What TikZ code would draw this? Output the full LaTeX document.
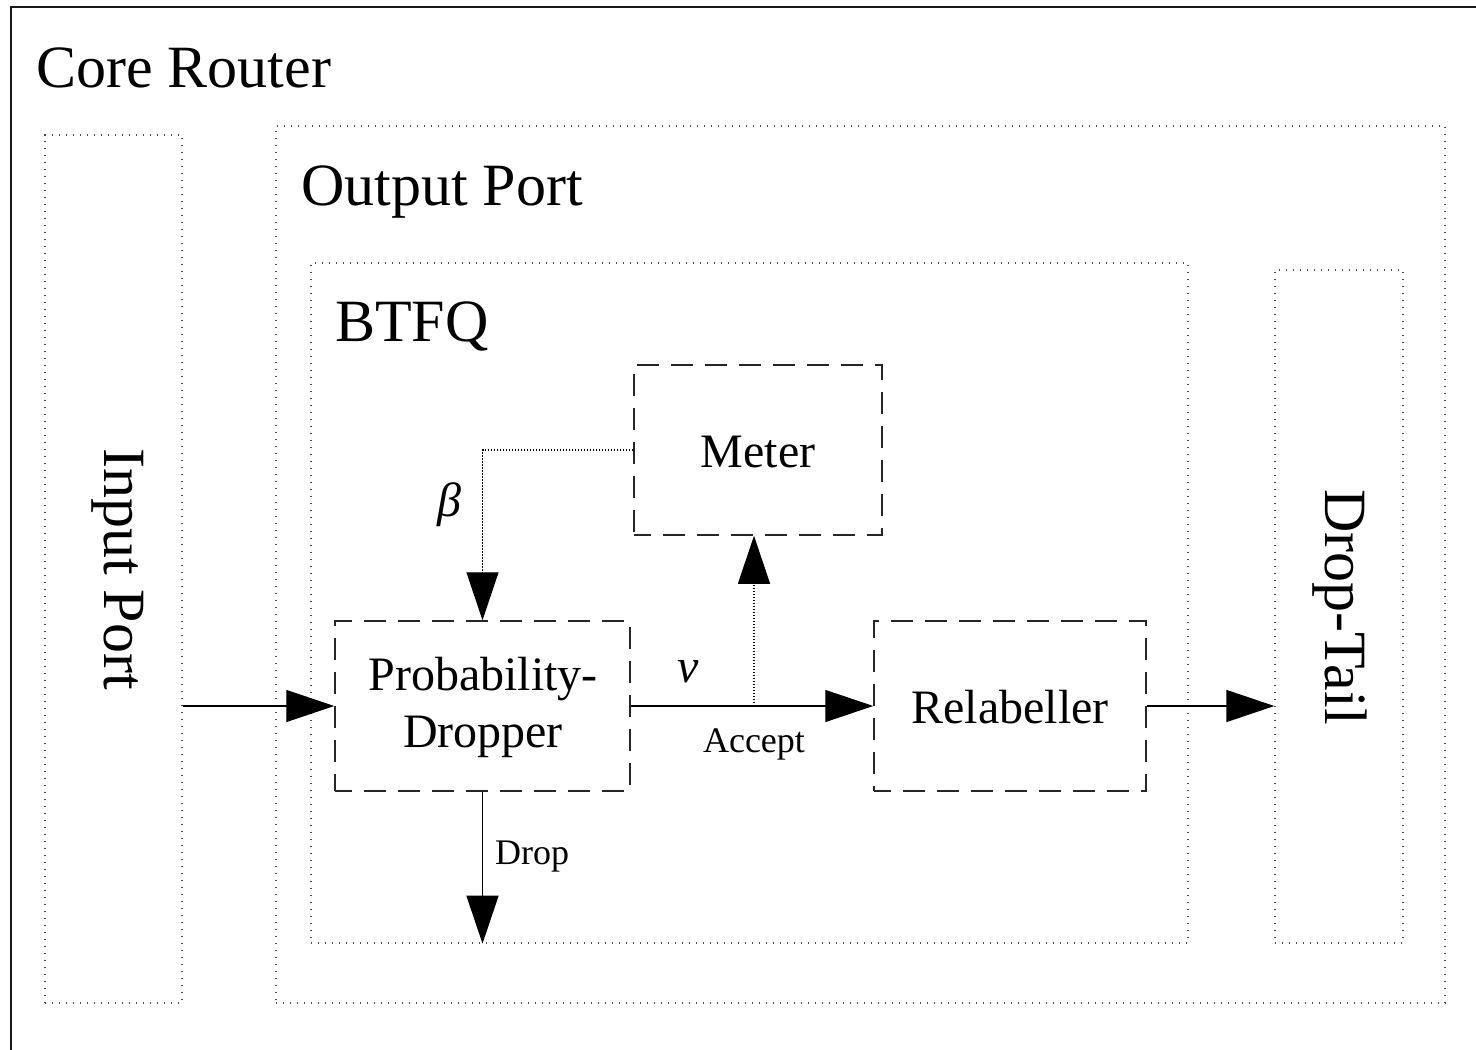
\documentclass[tikz,border=0pt]{standalone}
\usepackage{fontspec}
\setmainfont{Liberation Serif}
\usetikzlibrary{arrows.meta}
\begin{document}
\begin{tikzpicture}[x=1pt,y=-1pt,
  dotbox/.style={draw=black!70, line width=1.3pt, dash pattern=on 1.4pt off 5.6pt, inner sep=0pt},
  dashbox/.style={draw=black!85, line width=1.5pt, dash pattern=on 22pt off 12pt, dash phase=5pt, inner sep=0pt, align=center},
  bigtxt/.style={font=\fontsize{60}{72}\selectfont, inner sep=0pt},
  midtxt/.style={font=\fontsize{48}{57}\selectfont, inner sep=0pt, align=center},
  smalltxt/.style={font=\fontsize{36}{43}\selectfont, inner sep=0pt},
  tip/.style={-{Triangle[length=48pt,width=32pt]}},
  conn/.style={line width=1.3pt, tip},
  dotconn/.style={line width=1.3pt, dash pattern=on 1.3pt off 1.7pt, tip}
]
\useasboundingbox (0,0) rectangle (1476,1050);
% outer frame (Core Router)
\draw[line width=2pt, black!90] (11,1050) -- (11,7) -- (1476,7);
\node[bigtxt, anchor=base west] (core) at (36,87) {Core Router};

% containers
\node[dotbox, minimum width=137pt, minimum height=868pt] (inport) at (113.5,569) {};
\node[bigtxt, rotate=-90] (inporttxt) at (118,569) {Input Port};
\node[dotbox, minimum width=1169pt, minimum height=877pt] (outport) at (860.5,564.5) {};
\node[bigtxt, anchor=base west] (outporttxt) at (301,205) {Output Port};
\node[dotbox, minimum width=877pt, minimum height=680pt] (btfq) at (749.5,603) {};
\node[bigtxt, anchor=base west] (btfqtxt) at (335,341) {BTFQ};
\node[dotbox, minimum width=128pt, minimum height=673pt] (droptail) at (1339,606.5) {};
\node[bigtxt, rotate=-90] (droptailtxt) at (1340,607) {Drop-Tail};

% functional blocks
\node[dashbox, minimum width=248pt, minimum height=170pt] (meter) at (758,450) {};
\node[midtxt] (metertxt) at (758,452) {Meter};
\node[dashbox, minimum width=295pt, minimum height=170pt] (pd) at (482.5,706) {};
\node[midtxt] (pdtxt) at (483,707) {Probability-\\Dropper};
\node[dashbox, minimum width=272pt, minimum height=170pt] (relab) at (1010,706) {};
\node[midtxt] (relabtxt) at (1010,707) {Relabeller};

% connectors
\draw[conn] (inport.east |- pd.west) -- (pd.west);
\coordinate (br) at (754,706);
\draw[conn] (pd.east) -- (relab.west);
\draw[dotconn] (br) -- (br |- meter.south);
\draw[dotconn] (meter.west) -| (pd.north);
\draw[conn] (pd.south) -- (pd.south |- btfq.south);
\draw[conn] (relab.east) -- (relab.east -| droptail.west);

% labels
\node[midtxt, font=\fontsize{48}{57}\selectfont\itshape] (beta) at (449,505) {β};
\node[midtxt, font=\fontsize{48}{57}\selectfont\itshape] (nu) at (688,672) {ν};
\node[smalltxt] (accept) at (754,744) {Accept};
\node[smalltxt, anchor=west] (drop) at (495,857) {Drop};
\end{tikzpicture}
\end{document}
